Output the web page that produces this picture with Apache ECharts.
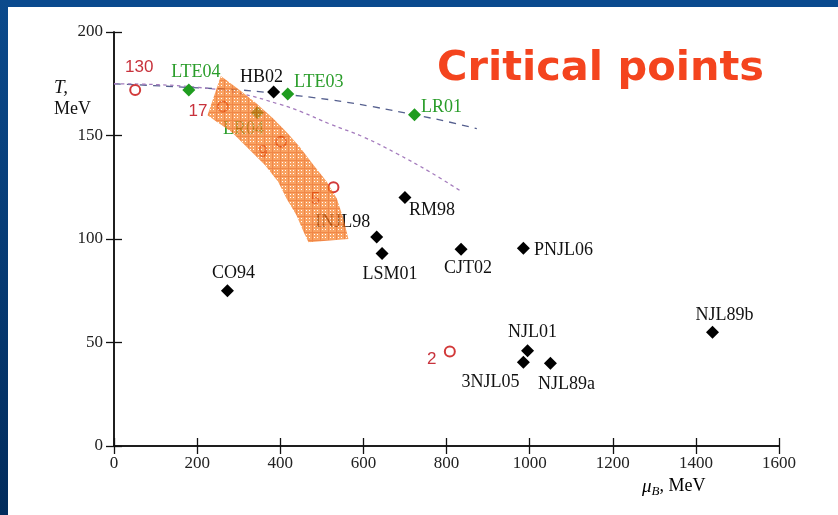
<!DOCTYPE html>
<html><head><meta charset="utf-8">
<script src="https://cdn.jsdelivr.net/npm/echarts@6/dist/echarts.min.js"></script>
<style>html,body{margin:0;padding:0;background:#fff}#c{width:838px;height:515px}</style>
</head><body><div id="c"></div>
<script>
// ---- data ----
const xTicks = [0, 200, 400, 600, 800, 1000, 1200, 1400, 1600];
const yTicks = [0, 50, 100, 150, 200];

const blackNames = ['HB02', 'RM98', 'INJL98', 'LSM01', 'CJT02', 'PNJL06', 'CO94', 'NJL89b', 'NJL01', '3NJL05', 'NJL89a'];
const blackMu    = [384, 700, 632, 645, 835, 985, 273, 1440, 995, 985, 1050];
const blackT     = [171, 120, 101, 93, 95, 95.5, 75, 55, 46, 40.5, 40];

const greenNames = ['LTE04', 'LTE03', 'LR04', 'LR01'];
const greenMu    = [180, 418, 345, 723];
const greenT     = [172, 170, 161, 160];

const redNames = ['130', '17', '9', '5', '2'];
const redMu    = [51, 262, 402, 528, 808];
const redT     = [172, 164, 147, 125, 45.6];

const upperCurveMu = [0, 127, 180, 303, 383, 519, 620, 723, 800, 873];
const upperCurveT  = [175, 173.8, 173.2, 172, 170.5, 167.3, 164, 160, 156.8, 153.3];

const lowerCurveMu = [0, 100, 200, 300, 400, 450, 520, 600, 680, 760, 837];
const lowerCurveT  = [175, 174.6, 173.3, 170.5, 165, 161.5, 155.5, 149.3, 141.3, 132.4, 122.8];

const bandOuterMu = [257, 303, 343, 383, 415, 447, 480, 512, 536, 552, 564];
const bandOuterT  = [178.7, 171.8, 165.4, 158.2, 151.7, 144.5, 135.7, 127.6, 119.6, 109.9, 100];
const bandInnerMu = [225, 247, 283, 323, 363, 395, 415, 439, 456, 468];
const bandInnerT  = [159.8, 156.6, 151.7, 143.7, 135.7, 127.6, 119.6, 111.5, 103.5, 98.4];

// ---- label placement (style, not data) ----
const labelOffset = {
  'HB02': [-12, -15], 'RM98': [27, 13], 'INJL98': [-34, -15], 'LSM01': [8, 21],
  'CJT02': [7, 19], 'PNJL06': [40, 2], 'CO94': [6, -17], 'NJL89b': [12, -17],
  'NJL01': [5, -19], '3NJL05': [-33, 20], 'NJL89a': [16, 21],
  'LTE04': [7, -18], 'LTE03': [31, -12], 'LR04': [-14, 17], 'LR01': [27, -8],
  '130': [4, -23], '17': [-25, 5], '9': [-18, 11], '5': [-18, 12], '2': [-18, 8]
};

function pts(names, xs, ys) {
  return names.map((n, i) => ({
    name: n, value: [xs[i], ys[i]],
    label: { offset: labelOffset[n] }
  }));
}

// hatched orange pattern for the band
const pc = document.createElement('canvas');
pc.width = 8; pc.height = 8;
const g = pc.getContext('2d');
g.fillStyle = '#f7832e'; g.fillRect(0, 0, 8, 8);
g.fillStyle = '#ffffff'; g.fillRect(2, 2, 1, 1); g.fillRect(5, 5, 1, 1); g.fillRect(2, 5, 1, 1); g.fillRect(5, 2, 1, 1);
g.fillStyle = '#ec600c'; g.fillRect(0, 0, 8, 1); g.fillRect(0, 0, 1, 8);

const chart = echarts.init(document.getElementById('c'), null, { renderer: 'canvas' });
const serif = '"Liberation Serif", "Times New Roman", serif';
const sans = '"Liberation Sans", Arial, sans-serif';

const axisCommon = {
  axisLine: { show: true, lineStyle: { color: '#111', width: 1.5 } },
  axisTick: { show: true, inside: true, length: 8, lineStyle: { color: '#111', width: 1.3 } },
  splitLine: { show: false }
};
const plain = v => String(v);

chart.setOption({
  backgroundColor: '#ffffff',
  animation: false,
  grid: { left: 114, right: 59, top: 32, bottom: 69 },
  xAxis: [
    Object.assign({
      type: 'value', position: 'bottom', min: xTicks[0], max: xTicks[xTicks.length - 1], interval: xTicks[1] - xTicks[0],
      axisLabel: { color: '#222', fontFamily: serif, fontSize: 17, margin: 9, formatter: plain }
    }, axisCommon),
    Object.assign({
      type: 'value', position: 'top', min: xTicks[0], max: xTicks[xTicks.length - 1], interval: xTicks[1] - xTicks[0],
      axisLabel: { show: false }
    }, axisCommon)
  ],
  yAxis: [
    Object.assign({
      type: 'value', position: 'left', min: yTicks[0], max: yTicks[yTicks.length - 1], interval: yTicks[1] - yTicks[0],
      axisLabel: { color: '#222', fontFamily: serif, fontSize: 17, margin: 11, formatter: plain }
    }, axisCommon),
    Object.assign({
      type: 'value', position: 'right', min: yTicks[0], max: yTicks[yTicks.length - 1], interval: yTicks[1] - yTicks[0],
      axisLabel: { show: false }
    }, axisCommon)
  ],
  graphic: [
    { type: 'rect', left: 0, top: 0, z: -10, shape: { width: 838, height: 7 }, style: { fill: '#0a4a8e' } },
    { type: 'rect', left: 0, top: 0, z: -10, shape: { width: 8, height: 515 },
      style: { fill: new echarts.graphic.LinearGradient(0, 0, 0, 1, [{ offset: 0, color: '#0b4a8c' }, { offset: 1, color: '#022c5c' }]) } },
    { type: 'text', left: 54, top: 78, style: { text: 'T,', font: 'italic 19px ' + serif, fill: '#111' } },
    { type: 'text', left: 54, top: 100, style: { text: 'MeV', font: '18px ' + serif, fill: '#111' } },
    { type: 'text', left: 642, top: 477, style: {
        text: '{mu|μ}{sub|B}{n|, MeV}',
        rich: {
          mu: { fontFamily: serif, fontStyle: 'italic', fontSize: 19, color: '#111' },
          sub: { fontFamily: serif, fontStyle: 'italic', fontSize: 13, color: '#111', padding: [10, 0, 0, 0] },
          n: { fontFamily: serif, fontSize: 18, color: '#111' }
        } } },
    { type: 'text', left: 437, top: 48, z: 20, style: { text: 'Critical points', font: 'bold 41.5px "DejaVu Sans", sans-serif', fill: '#f4441e' } }
  ],
  series: [
    {
      type: 'line', smooth: 0.4, showSymbol: false, silent: true, z: 1,
      data: upperCurveMu.map((m, i) => [m, upperCurveT[i]]),
      lineStyle: { color: '#56608f', width: 1.3, type: [7, 6] }
    },
    {
      type: 'line', smooth: 0.4, showSymbol: false, silent: true, z: 1,
      data: lowerCurveMu.map((m, i) => [m, lowerCurveT[i]]),
      lineStyle: { color: '#a47bbd', width: 1.3, type: [3.5, 3.5] }
    },
    {
      type: 'scatter', z: 3, symbol: 'diamond', symbolSize: 13,
      itemStyle: { color: '#000', opacity: 1 },
      label: { show: true, position: 'inside', formatter: '{b}', color: '#111', fontFamily: serif, fontSize: 18, align: 'center', verticalAlign: 'middle' },
      data: pts(blackNames, blackMu, blackT)
    },
    {
      type: 'scatter', z: 3, symbol: 'diamond', symbolSize: 13,
      itemStyle: { color: '#1f9c1f', opacity: 1 },
      label: { show: true, position: 'inside', formatter: '{b}', color: '#2a9d2a', fontFamily: serif, fontSize: 18, align: 'center', verticalAlign: 'middle' },
      data: pts(greenNames, greenMu, greenT)
    },
    {
      type: 'scatter', z: 3, symbol: 'emptyCircle', symbolSize: 10,
      itemStyle: { color: '#d23a3a', borderColor: '#d23a3a', borderWidth: 1.6, opacity: 1 },
      label: { show: true, position: 'inside', formatter: '{b}', color: '#c8323c', fontFamily: sans, fontSize: 17, align: 'center', verticalAlign: 'middle' },
      data: pts(redNames, redMu, redT)
    },
    {
      type: 'custom', z: 6, silent: true, clip: false,
      data: [[bandOuterMu[0], bandOuterT[0]]],
      renderItem: function (params, api) {
        const p = [];
        for (let i = 0; i < bandOuterMu.length; i++) p.push(api.coord([bandOuterMu[i], bandOuterT[i]]));
        for (let i = bandInnerMu.length - 1; i >= 0; i--) p.push(api.coord([bandInnerMu[i], bandInnerT[i]]));
        return { type: 'polygon', shape: { points: p }, style: { fill: { image: pc, repeat: 'repeat' }, opacity: 0.75 } };
      }
    }
  ]
});
</script></body></html>
